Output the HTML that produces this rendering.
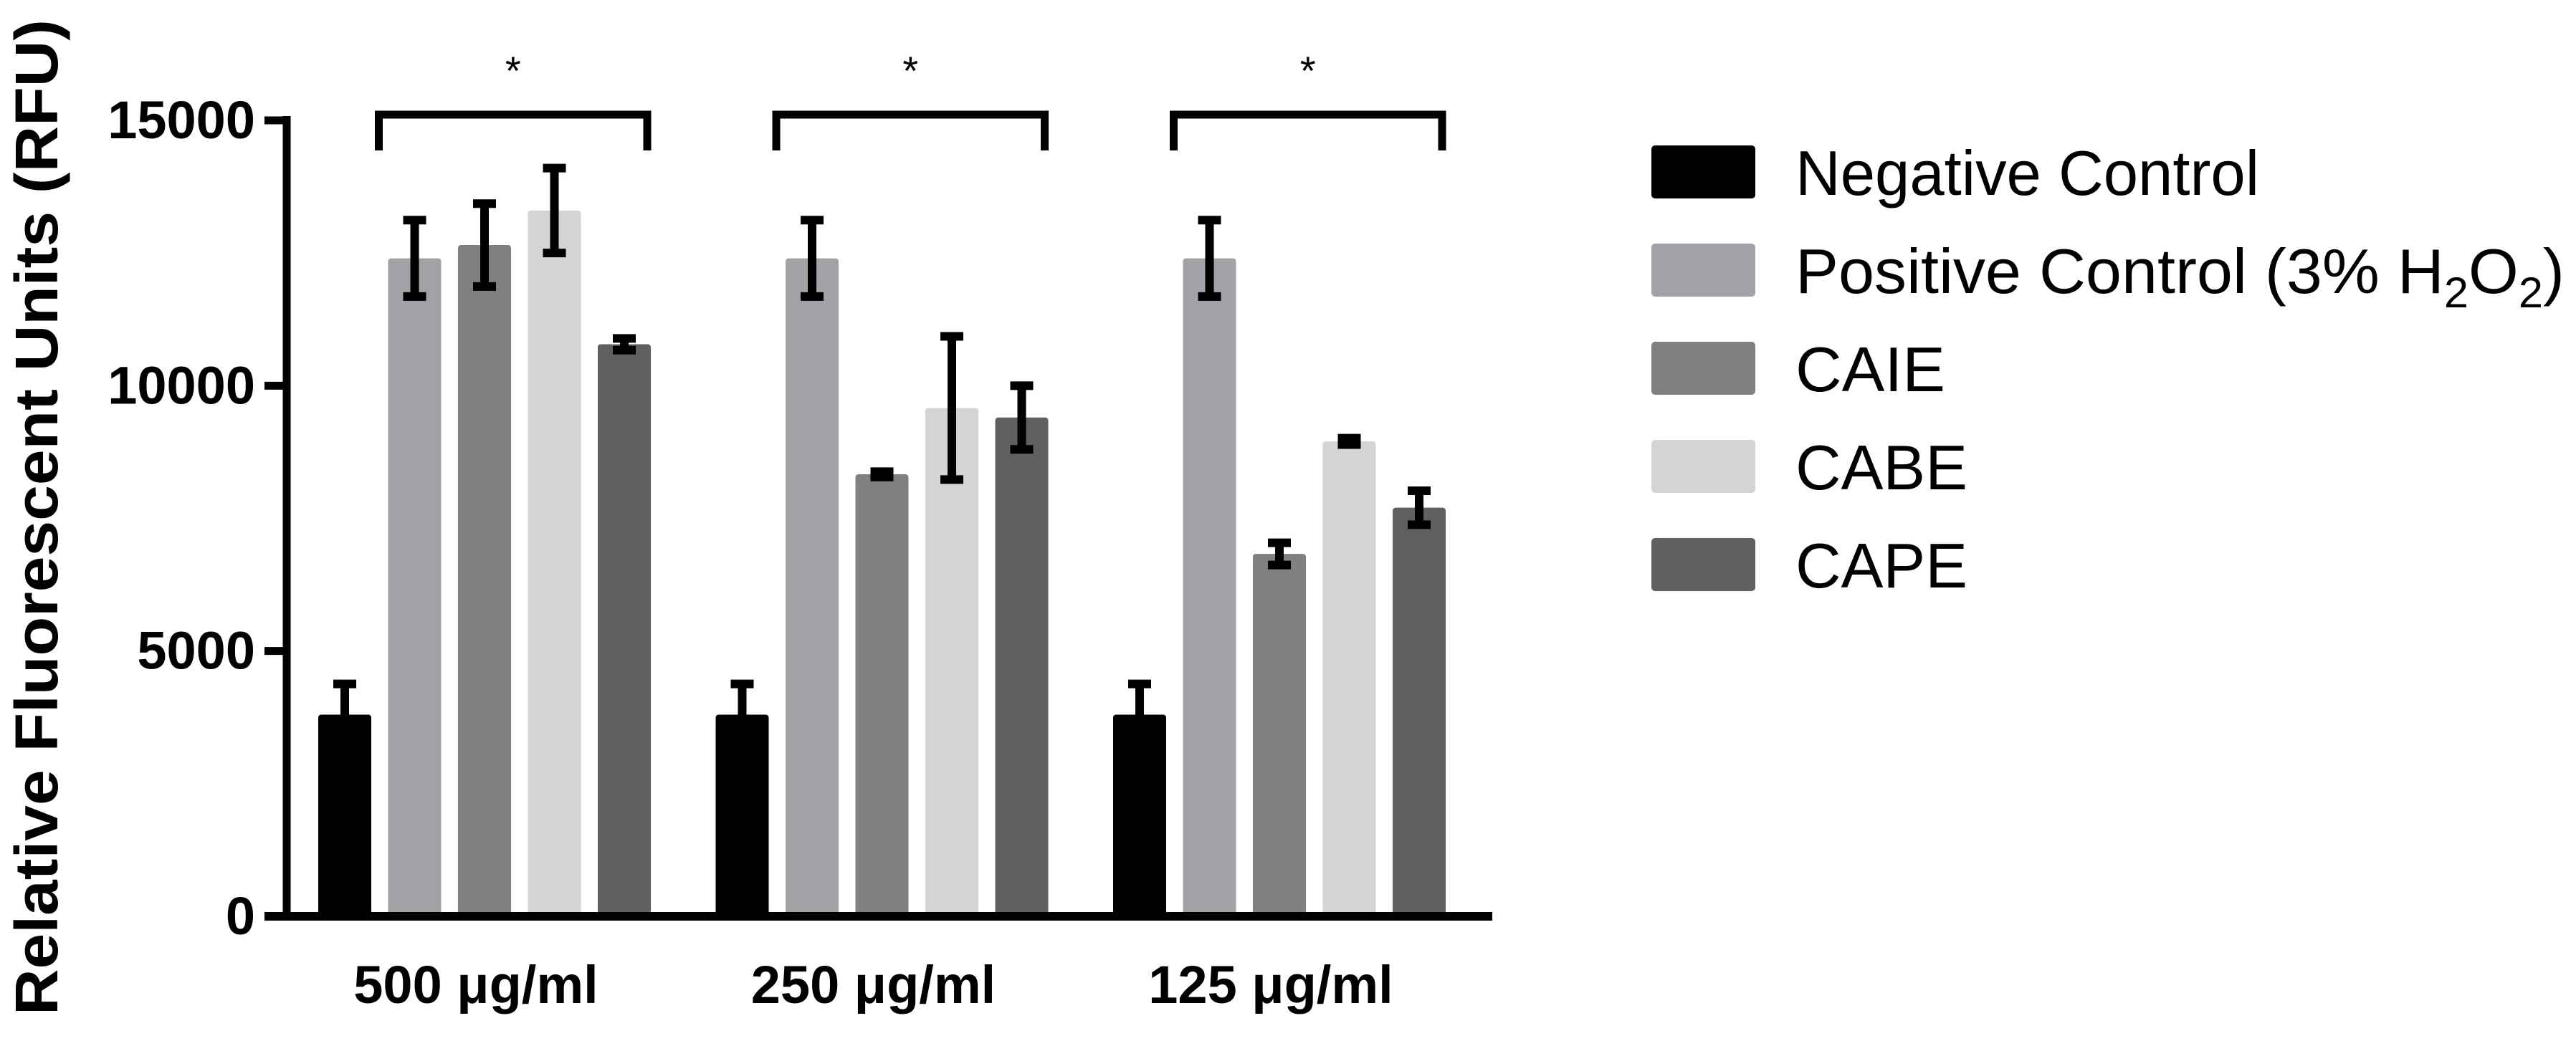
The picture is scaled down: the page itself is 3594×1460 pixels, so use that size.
<!DOCTYPE html>
<html>
<head>
<meta charset="utf-8">
<style>
html,body{margin:0;padding:0;background:#fff;}
body{width:3594px;height:1455px;overflow:hidden;font-family:"Liberation Sans",Arial,sans-serif;}
</style>
</head>
<body>
<svg id="chart" width="3594" height="1455" viewBox="0 0 3594 1455" xmlns="http://www.w3.org/2000/svg" font-family="Liberation Sans, Arial, sans-serif">
<g id="plot"></g>
<g id="legend"></g>
</svg>
<script>
const categories = ["500 \u03bcg/ml", "250 \u03bcg/ml", "125 \u03bcg/ml"];
const seriesNames = ["Negative Control", "Positive Control", "CAIE", "CABE", "CAPE"];
const negValues = [3800, 3800, 3800];
const posValues = [12400, 12400, 12400];
const caieValues = [12650, 8330, 6830];
const cabeValues = [13300, 9580, 8950];
const capeValues = [10780, 9400, 7700];
const negErr = [580, 580, 580];
const posErr = [720, 720, 720];
const caieErr = [780, 50, 210];
const cabeErr = [800, 1350, 60];
const capeErr = [110, 600, 320];
const yTicks = [0, 5000, 10000, 15000];
const sigLabels = ["*", "*", "*"];

const colors = ["#000000", "#a2a1a6", "#808080", "#d4d4d4", "#606060"];
const NS = "http://www.w3.org/2000/svg";
const plot = document.getElementById("plot");
const legend = document.getElementById("legend");
const Y0 = 1279, Y15 = 168;
function yScale(v){ return Y0 - (v/15000)*(Y0-Y15); }
const groupStart = 444, groupPitch = 554.5, barPitch = 97.5, barW = 74;
function xBar(g, s){ return groupStart + g*groupPitch + s*barPitch; }
function mk(tag, attrs, parent){ const e=document.createElementNS(NS,tag); for(const k in attrs) e.setAttribute(k,attrs[k]); parent.appendChild(e); return e; }

const allVals = [negValues, posValues, caieValues, cabeValues, capeValues];
const allErr = [negErr, posErr, caieErr, cabeErr, capeErr];

for (let g=0; g<categories.length; g++){
  for (let s=0; s<allVals.length; s++){
    const v = allVals[s][g];
    const x = xBar(g,s);
    const r = mk("rect",{x:x,y:yScale(v),width:barW,height:Y0-yScale(v),fill:colors[s],rx:4},plot);
    
    
  }
}
for (let g=0; g<categories.length; g++){
  for (let s=0; s<allVals.length; s++){
    const v = allVals[s][g], e = allErr[s][g];
    const cx = xBar(g,s)+barW/2;
    const top = yScale(v+e), bot = yScale(s===0 ? v : v-e);
    const eg = mk("g",{},plot);
    
    
    mk("line",{x1:cx,x2:cx,y1:top,y2:bot,stroke:"#000","stroke-width":12},eg);
    mk("line",{x1:cx-16,x2:cx+16,y1:top,y2:top,stroke:"#000","stroke-width":12},eg);
    if (s!==0) mk("line",{x1:cx-16,x2:cx+16,y1:bot,y2:bot,stroke:"#000","stroke-width":12},eg);
  }
}
const yAxis = mk("line",{x1:400,x2:400,y1:Y15-6,y2:Y0+6,stroke:"#000","stroke-width":11},plot);


const xAxis = mk("line",{x1:369,x2:2082,y1:Y0,y2:Y0,stroke:"#000","stroke-width":12},plot);


for (const t of yTicks){
  const y = yScale(t);
  const tk = mk("line",{x1:369,x2:400,y1:y,y2:y,stroke:"#000","stroke-width":11},plot);
  
  
  const lb = mk("text",{x:356,y:y+25,"text-anchor":"end","font-size":74,"font-weight":"bold",fill:"#000"},plot);
  lb.textContent = String(t);
  
  
}
for (let g=0; g<categories.length; g++){
  const cx = xBar(g,0) + (4*barPitch+barW)/2 - 12;
  const lb = mk("text",{x:cx,y:1400,"text-anchor":"middle","font-size":74,"font-weight":"bold",fill:"#000"},plot);
  lb.textContent = categories[g];
  
  
}
for (let g=0; g<categories.length; g++){
  const x1 = xBar(g,1) - 13, x2 = xBar(g,4) + barW - 5;
  const br = mk("path",{d:`M${x1},210 L${x1},160 L${x2},160 L${x2},210`,fill:"none",stroke:"#000","stroke-width":11},plot);
  
  
  const st = mk("text",{x:(x1+x2)/2,y:118,"text-anchor":"middle","font-size":56,fill:"#000"},plot);
  st.textContent = sigLabels[g];
  
  
}
const yt = mk("text",{x:0,y:0,transform:"translate(80,722) rotate(-90)","text-anchor":"middle","font-size":84,"font-weight":"bold",fill:"#000",textLength:1390,lengthAdjust:"spacingAndGlyphs"},plot);
yt.textContent = "Relative Fluorescent Units (RFU)";



const legY = [240, 377, 514, 651, 788];
const legTextW = [647, 1073, 209, 240, 240];
for (let s=0; s<seriesNames.length; s++){
  const eg = mk("g",{},legend);
  
  
  mk("rect",{x:2304,y:legY[s]-37,width:145,height:74,rx:5,fill:colors[s]},eg);
  const t = mk("text",{x:2505,y:legY[s]+32,"font-size":88,fill:"#000",textLength:legTextW[s],lengthAdjust:"spacingAndGlyphs"},eg);
  if (s===1){
    t.innerHTML = 'Positive Control (3% H<tspan font-size="60" dy="20">2</tspan><tspan dy="-20">O</tspan><tspan font-size="60" dy="20">2</tspan><tspan dy="-20">)</tspan>';
  } else {
    t.textContent = seriesNames[s];
  }
}
</script>
</body>
</html>
